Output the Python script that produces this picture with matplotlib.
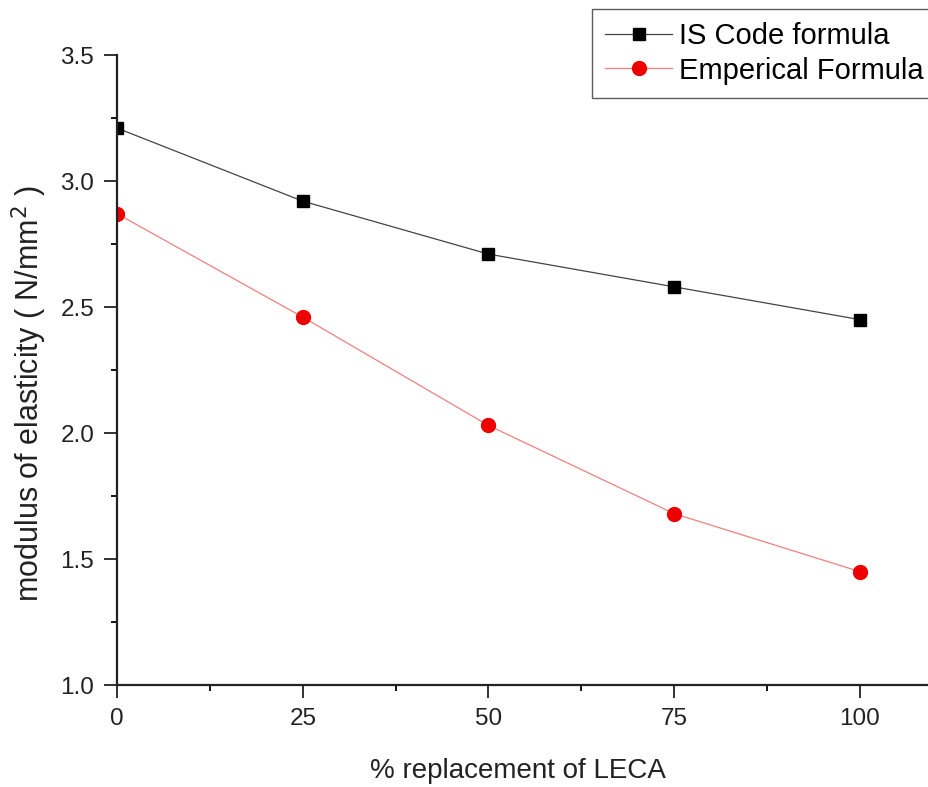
import numpy as np
import matplotlib.pyplot as plt
from matplotlib.ticker import MultipleLocator

# % replacement of LECA
leca = [0, 25, 50, 75, 100]
# modulus of elasticity values
is_code = [3.21, 2.92, 2.71, 2.58, 2.45]
emperical = [2.87, 2.46, 2.03, 1.68, 1.45]

plt.rcParams['font.family'] = ['Liberation Sans', 'DejaVu Sans']

fig = plt.figure(figsize=(9.29, 7.87), dpi=100)
ax = fig.add_axes([0.126, 0.1296, 0.874, 0.8005])

ax.plot(leca, is_code, color='#444444', lw=0.9, marker='s', ms=9,
        mfc='black', mec='black', label='IS Code formula')
ax.plot(leca, emperical, color='#f08080', lw=0.9, marker='o', ms=10,
        mfc='#ee0000', mec='#ee0000', label='Emperical Formula')

ax.set_xlim(0, 109.3)
ax.set_ylim(1.0, 3.5)
ax.xaxis.set_major_locator(MultipleLocator(25))
ax.xaxis.set_minor_locator(MultipleLocator(12.5))
ax.yaxis.set_major_locator(MultipleLocator(0.5))
ax.yaxis.set_minor_locator(MultipleLocator(0.25))
ax.tick_params(which='major', direction='out', length=9.5, width=1.3,
               labelsize=17.5, colors='#222222', pad=7)
ax.tick_params(which='minor', direction='out', length=4.5, width=1.3)

for s in ['top', 'right']:
    ax.spines[s].set_visible(False)
for s in ['left', 'bottom']:
    ax.spines[s].set_linewidth(1.6)
    ax.spines[s].set_color('#222222')

ax.set_xlabel('% replacement of LECA', fontsize=20, color='#222222', labelpad=20)
ax.xaxis.label.set_x(0.494)
ax.set_ylabel('modulus of elasticity ( N/mm$^2$ )', fontsize=22, color='#222222', labelpad=8)
ax.yaxis.label.set_y(0.462)

leg = fig.legend(loc='upper left', bbox_to_anchor=(592 / 929, 1 - 9 / 787),
                 fontsize=21, frameon=True, fancybox=False, handlelength=2.3,
                 borderpad=0.45, labelspacing=0.22, handletextpad=0.25,
                 borderaxespad=0)
leg.get_frame().set_edgecolor('#333333')
leg.get_frame().set_linewidth(1.0)

fig.savefig('out.png', dpi=100)
